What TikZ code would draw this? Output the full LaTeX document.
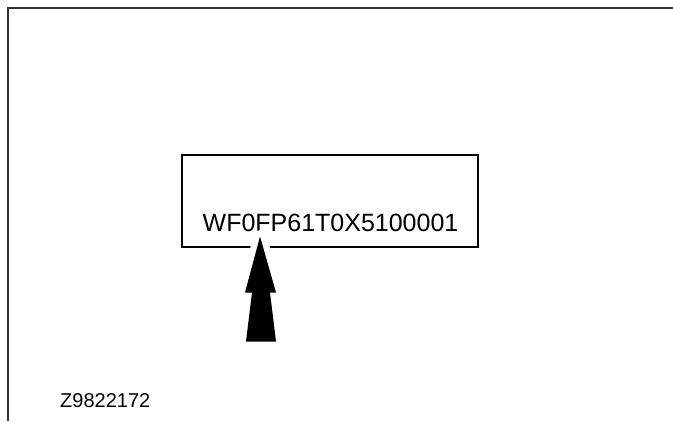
\documentclass[tikz,border=0pt]{standalone}
\usepackage{fontspec}
\setmainfont{Liberation Sans}
\usetikzlibrary{positioning}

\begin{document}
\begin{tikzpicture}[x=1pt, y=-1pt]
    \useasboundingbox (0, 0) rectangle (673, 421);

    % frame of the page
    \coordinate (corner) at (8, 8);
    \draw [line width=1.8pt, black!80] (673, 8) -- (corner) -- (8, 421);

    \node (vinbox) [draw, line width=2pt, rectangle, minimum width=296pt, minimum height=92pt, inner sep=0pt] at (330, 201) {};
    \node (vin) [anchor=base, inner sep=0pt, font=\fontsize{25}{30}\selectfont] at (330.5, 231.5) {WF0FP61T0X5100001};
    \node (code) [anchor=base west, inner sep=0pt, font=\fontsize{20}{22}\selectfont] at (60, 407) {Z9822172};

    % arrow pointing at the number
    \coordinate (tip) at (260, 236.5);
    \path [draw=white, line width=13pt, line join=round] (tip) -- ++(16, 56) -- ++(-6, 0) -- ++(6, 49) -- ++(-30, 0) -- ++(6, -49) -- ++(-7, 0) -- cycle;
    \fill [black] (tip) -- ++(16, 56) -- ++(-6, 0) -- ++(6, 49) -- ++(-30, 0) -- ++(6, -49) -- ++(-7, 0) -- cycle;
\end{tikzpicture}
\end{document}
